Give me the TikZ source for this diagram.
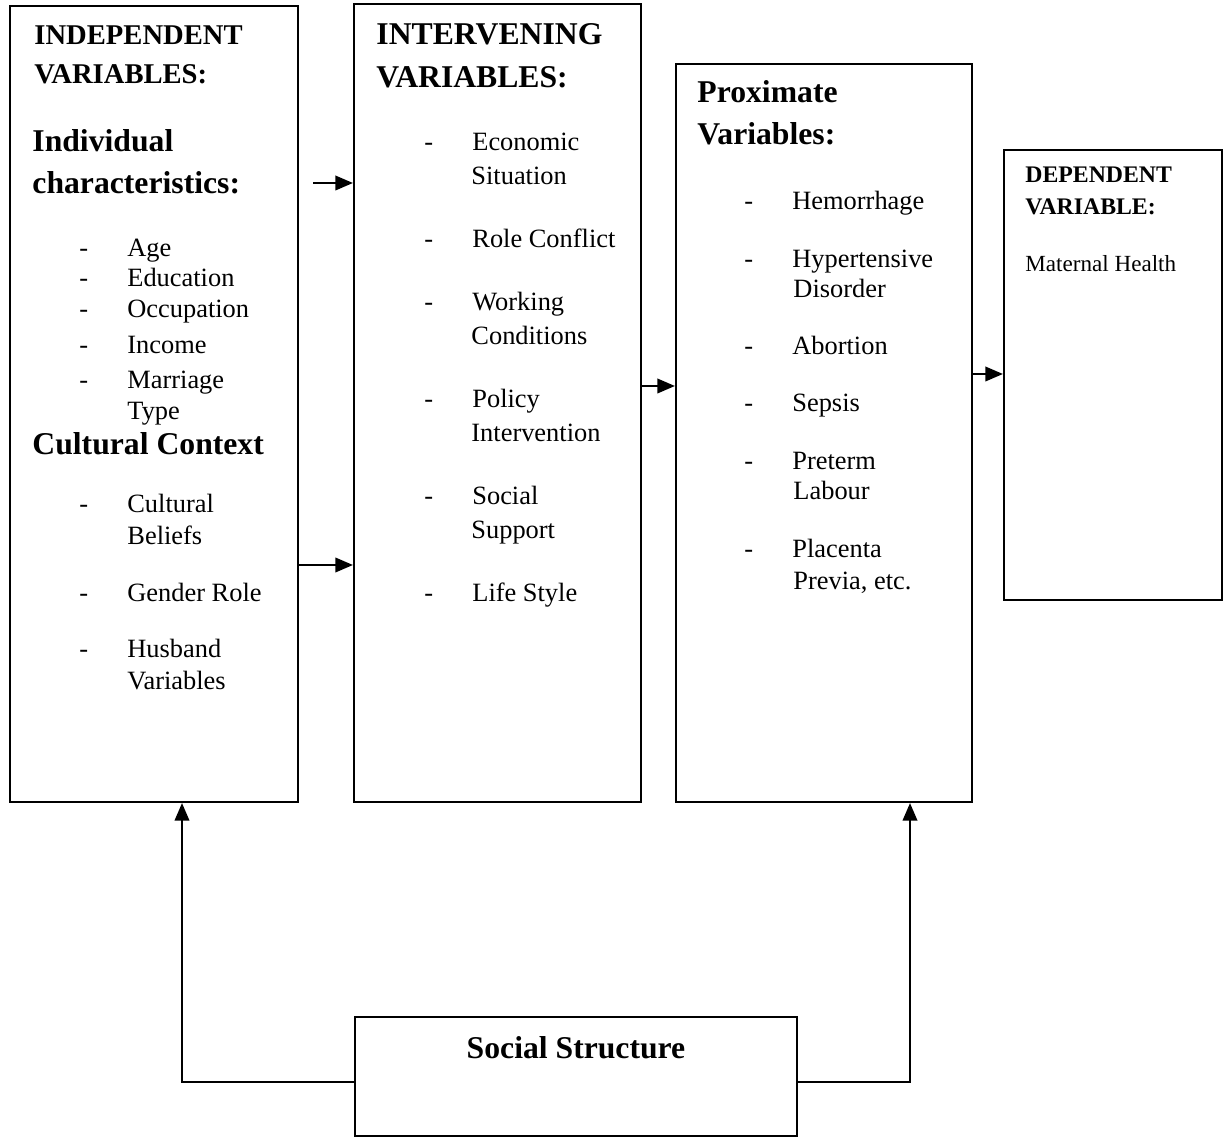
\documentclass[tikz,border=0pt]{standalone}
\usepackage{fontspec}
\setmainfont{Liberation Serif}
\usetikzlibrary{arrows.meta,fit}
\newcommand{\dsh}{\makebox[21.8pt][l]{-}}
\begin{document}
\begin{tikzpicture}[x=0.4545pt,y=-0.4545pt,
    box/.style={draw,line width=0.9pt,inner sep=0pt},
    txt/.style={anchor=base west,inner sep=0pt,font=\fontsize{12}{14}\selectfont},
    head/.style={anchor=base west,inner sep=0pt,font=\bfseries\fontsize{13}{15}\selectfont},
    big/.style={anchor=base west,inner sep=0pt,font=\bfseries\fontsize{14.4}{16}\selectfont},
    small/.style={anchor=base west,inner sep=0pt,font=\fontsize{10.5}{12}\selectfont},
    arr/.style={-{Triangle[length=8pt,width=6.5pt]},line width=1.2pt}]
    \useasboundingbox (0,0) rectangle (1228,1137);

    \node[box,fit={(10,6) (298,802)}] (indep) {};
    \node[box,fit={(354,4) (641,802)}] (interv) {};
    \node[box,fit={(676,64) (972,802)}] (prox) {};
    \node[box,fit={(1004,150) (1222,600)}] (dep) {};
    \node[box,fit={(355,1017) (797,1136)}] (social) {};

    \node[head] (indephead1) at (34,45) {INDEPENDENT};
    \node[head] (indephead2) at (34,84) {VARIABLES:};
    \node[big] (indiv1) at (32,152) {Individual};
    \node[big] (indiv2) at (32,194) {characteristics:};
    \node[txt] (age) at (79,257) {\dsh Age};
    \node[txt] (edu) at (79,287) {\dsh Education};
    \node[txt] (occ) at (79,318) {\dsh Occupation};
    \node[txt] (inc) at (79,354) {\dsh Income};
    \node[txt] (mar1) at (79,389) {\dsh Marriage};
    \node[txt] (mar2) at (127,420) {Type};
    \node[big] (cult) at (32,455) {Cultural Context};
    \node[txt] (bel1) at (79,513) {\dsh Cultural};
    \node[txt] (bel2) at (127,545) {Beliefs};
    \node[txt] (gen) at (79,602) {\dsh Gender Role};
    \node[txt] (hus1) at (79,658) {\dsh Husband};
    \node[txt] (hus2) at (127,690) {Variables};

    \node[big] (intervhead1) at (376,45) {INTERVENING};
    \node[big] (intervhead2) at (376,88) {VARIABLES:};
    \node[txt] (eco1) at (424,151) {\dsh Economic};
    \node[txt] (eco2) at (471,185) {Situation};
    \node[txt] (role) at (424,248) {\dsh Role Conflict};
    \node[txt] (work1) at (424,311) {\dsh Working};
    \node[txt] (work2) at (471,345) {Conditions};
    \node[txt] (pol1) at (424,408) {\dsh Policy};
    \node[txt] (pol2) at (471,442) {Intervention};
    \node[txt] (sup1) at (424,505) {\dsh Social};
    \node[txt] (sup2) at (471,539) {Support};
    \node[txt] (life) at (424,602) {\dsh Life Style};

    \node[big] (proxhead1) at (697,103) {Proximate};
    \node[big] (proxhead2) at (697,145) {Variables:};
    \node[txt] (hem) at (744,210) {\dsh Hemorrhage};
    \node[txt] (hyp1) at (744,268) {\dsh Hypertensive};
    \node[txt] (hyp2) at (793,298) {Disorder};
    \node[txt] (abo) at (744,355) {\dsh Abortion};
    \node[txt] (sep) at (744,412) {\dsh Sepsis};
    \node[txt] (pre1) at (744,470) {\dsh Preterm};
    \node[txt] (pre2) at (793,500) {Labour};
    \node[txt] (pla1) at (744,558) {\dsh Placenta};
    \node[txt] (pla2) at (793,590) {Previa, etc.};

    \node[head,font=\bfseries\fontsize{10.8}{13}\selectfont] (dephead1) at (1025,183) {DEPENDENT};
    \node[head,font=\bfseries\fontsize{10.8}{13}\selectfont] (dephead2) at (1025,215) {VARIABLE:};
    \node[small] (mat) at (1025,272) {Maternal Health};

    \node[big,anchor=base] (soc) at (576,1058) {Social Structure};

    \coordinate (a1) at (313,183);
    \coordinate (a2) at (0,565);
    \coordinate (a3) at (0,386);
    \coordinate (a4) at (0,374);
    \coordinate (s1) at (0,1082);
    \coordinate (l1) at (182,0);
    \coordinate (r1) at (910,0);
    \draw[arr] (a1) -- (a1 -| interv.west);
    \draw[arr] (indep.east |- a2) -- (interv.west |- a2);
    \draw[arr] (interv.east |- a3) -- (prox.west |- a3);
    \draw[arr] (prox.east |- a4) -- (dep.west |- a4);
    \draw[arr] (social.west |- s1) -| (indep.south -| l1);
    \draw[arr] (social.east |- s1) -| (prox.south -| r1);
\end{tikzpicture}
\end{document}
